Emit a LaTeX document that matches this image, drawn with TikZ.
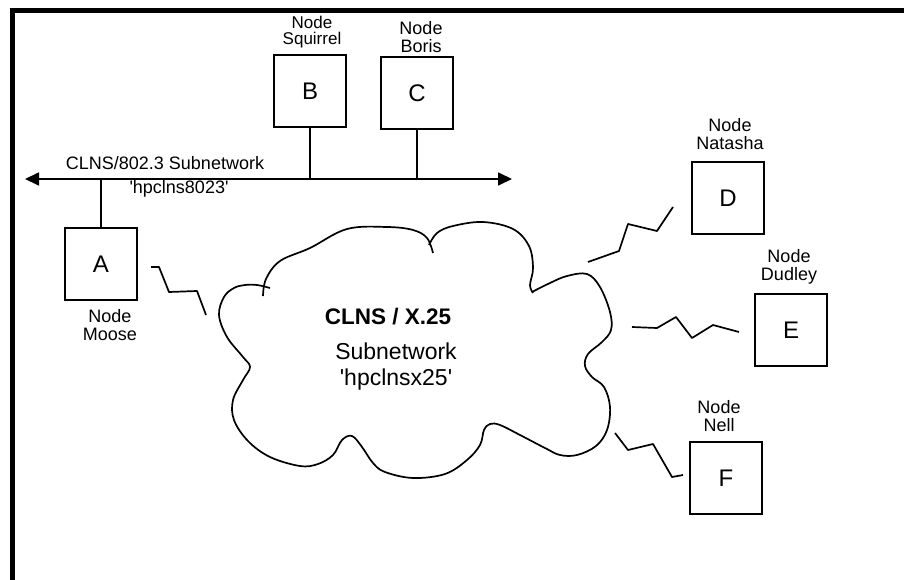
\documentclass[tikz,border=0pt]{standalone}
\usepackage{fontspec}
\setmainfont{Liberation Sans}
\usetikzlibrary{arrows.meta}
\tikzset{
  box/.style={draw, line width=1.7pt, minimum size=72pt, inner sep=0pt,
    font=\fontsize{24}{24}\selectfont},
  lbl/.style={align=center, inner sep=0pt, font=\fontsize{18}{18}\selectfont},
  wire/.style={line width=1.7pt},
}
\begin{document}
\begin{tikzpicture}[x=1pt, y=-1pt, >={Triangle[length=14pt,width=13pt]}]
    \useasboundingbox (0,0) rectangle (904,580);
    \draw [line width=5pt] (12.5,580) -- (12.5,10.5) -- (904,10.5);

    \coordinate (busL) at (25,179);
    \coordinate (busR) at (512,179);
    \draw [wire, <->] (busL) -- (busR);
    \node[lbl] (busname) at (165,163) {CLNS/802.3 Subnetwork};
    \node[lbl] (busid) at (179,189) {\textquotesingle hpclns8023\textquotesingle};

    \node[box] (A) at (101,264) {A};
    \node[box] (B) at (310,91) {B};
    \node[box] (C) at (417,93) {C};
    \node[box] (D) at (728,198) {D};
    \node[box] (E) at (791,330) {E};
    \node[box] (F) at (726,478) {F};

    \node[lbl, font=\fontsize{17}{16}\selectfont] (nameB) at (312,32) {Node\\Squirrel};
    \node[lbl] (nameC) at (421,37) {Node\\Boris};
    \node[lbl] (nameA) at (110,325) {Node\\Moose};
    \node[lbl] (nameD) at (730,134) {Node\\Natasha};
    \node[lbl] (nameE) at (789,267) {Node\\Dudley};
    \node[lbl] (nameF) at (719,416) {Node\\Nell};

    \draw [wire]
    (A.north) -- (A.north |- busL)
    (B.south) -- (B.south |- busL)
    (C.south) -- (C.south |- busL);

    \draw [wire] plot[smooth, tension=0.6] coordinates {
      (263,296) (266,279) (280,261) (310,248) (347,229) (387,227) (413,230)
      (427,238) (433,253)};
    \draw [wire] plot[smooth, tension=0.6] coordinates {
      (429,245) (437,233) (453,226) (483,222) (513,229) (529,246) (533,268)
      (530,285) (533,293)};
    \draw [wire] plot[smooth, tension=0.6] coordinates {
      (532,292) (550,283) (567,276) (587,274) (600,287) (610,312) (611,330)
      (602,342) (588,354) (585,366) (592,377) (604,387) (610,407) (607,430)
      (596,446) (577,455) (560,455) (545,448) (520,435) (500,425) (490,424)
      (484,430) (480,445) (467,460) (445,474) (413,478) (385,472) (373,463)
      (362,447) (352,436) (342,440) (333,455) (318,464) (300,466) (270,457)
      (248,441) (234,420) (233,400) (243,380) (250,367) (243,357) (227,337)
      (219,315) (224,297) (234,288) (245,285) (257,285) (270,288)};

    \node[font=\fontsize{22.5}{22.5}\selectfont\bfseries] (cloudname) at (388,317) {CLNS / X.25};
    \node[align=center, font=\fontsize{23}{26}\selectfont] (cloudid) at (396,367)
      {Subnetwork\\\textquotesingle hpclnsx25\textquotesingle};

    \draw [wire, line join=bevel]
    (151,267) -- (159,267) -- (169,292) -- (197,291) -- (206,315)
    (588,262) -- (619,251) -- (628,224) -- (657,231) -- (673,207)
    (632,327) -- (657,328) -- (676,317) -- (692,338) -- (713,325) -- (739,332)
    (615,433) -- (628,450) -- (653,444) -- (672,477) -- (683,475);
  \end{tikzpicture}
\end{document}
